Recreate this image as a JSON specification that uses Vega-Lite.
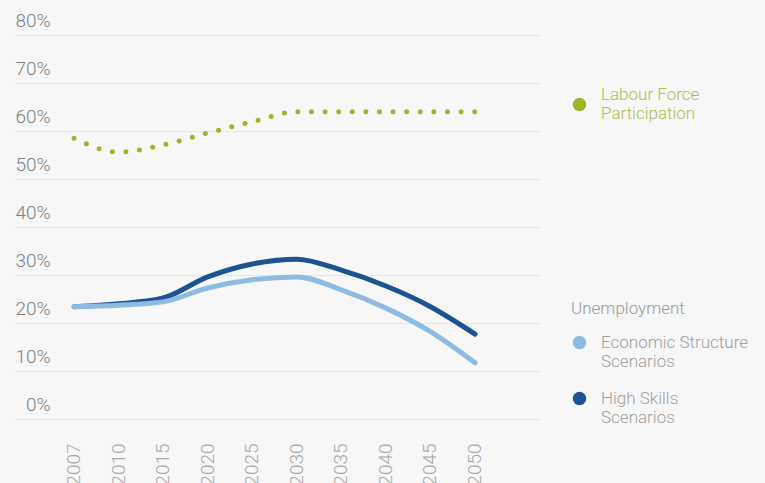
{
  "$schema": "https://vega.github.io/schema/vega-lite/v6.json",
  "width": 525,
  "height": 384,
  "autosize": {"type": "none"},
  "padding": {"left": 15, "top": 35, "right": 225, "bottom": 64},
  "background": "#f7f7f7",
  "config": {
    "view": {"stroke": null},
    "font": "Roboto, sans-serif",
    "legend": {"padding": 0}
  },
  "datasets": {
    "lfp": [
      {"year": "2007", "series": "Labour Force Participation", "rate": 58.5},
      {"year": "2010", "series": "Labour Force Participation", "rate": 55.6},
      {"year": "2015", "series": "Labour Force Participation", "rate": 57.1},
      {"year": "2020", "series": "Labour Force Participation", "rate": 59.6},
      {"year": "2025", "series": "Labour Force Participation", "rate": 61.9},
      {"year": "2030", "series": "Labour Force Participation", "rate": 64.0},
      {"year": "2035", "series": "Labour Force Participation", "rate": 64.0},
      {"year": "2040", "series": "Labour Force Participation", "rate": 64.0},
      {"year": "2045", "series": "Labour Force Participation", "rate": 64.0},
      {"year": "2050", "series": "Labour Force Participation", "rate": 64.0}
    ],
    "unemp": [
      {"year": "2007", "scenario": "High Skills Scenarios", "rate": 23.4},
      {"year": "2010", "scenario": "High Skills Scenarios", "rate": 24.0},
      {"year": "2015", "scenario": "High Skills Scenarios", "rate": 25.2},
      {"year": "2020", "scenario": "High Skills Scenarios", "rate": 29.6},
      {"year": "2025", "scenario": "High Skills Scenarios", "rate": 32.3},
      {"year": "2030", "scenario": "High Skills Scenarios", "rate": 33.3},
      {"year": "2035", "scenario": "High Skills Scenarios", "rate": 31.0},
      {"year": "2040", "scenario": "High Skills Scenarios", "rate": 27.7},
      {"year": "2045", "scenario": "High Skills Scenarios", "rate": 23.4},
      {"year": "2050", "scenario": "High Skills Scenarios", "rate": 17.7},
      {"year": "2007", "scenario": "Economic Structure Scenarios", "rate": 23.4},
      {"year": "2010", "scenario": "Economic Structure Scenarios", "rate": 23.7},
      {"year": "2015", "scenario": "Economic Structure Scenarios", "rate": 24.4},
      {"year": "2020", "scenario": "Economic Structure Scenarios", "rate": 27.3},
      {"year": "2025", "scenario": "Economic Structure Scenarios", "rate": 29.0},
      {"year": "2030", "scenario": "Economic Structure Scenarios", "rate": 29.6},
      {"year": "2035", "scenario": "Economic Structure Scenarios", "rate": 26.9},
      {"year": "2040", "scenario": "Economic Structure Scenarios", "rate": 23.1},
      {"year": "2045", "scenario": "Economic Structure Scenarios", "rate": 18.2},
      {"year": "2050", "scenario": "Economic Structure Scenarios", "rate": 11.7}
    ]
  },
  "encoding": {
    "x": {
      "field": "year", "type": "ordinal", "bandPosition": 0.5,
      "scale": {"type": "band", "paddingInner": 0, "paddingOuter": 0.891, "align": 0.4625},
      "axis": {"title": null, "labelAngle": 270, "labelPadding": 24, "ticks": false, "domain": false, "grid": false, "labelFontSize": 19, "labelFontWeight": 300, "labelColor": "#a8a8a8"}
    },
    "y": {
      "field": "rate", "type": "quantitative",
      "scale": {"domain": [0, 80]},
      "axis": {"title": null, "values": [0, 10, 20, 30, 40, 50, 60, 70, 80], "labelExpr": "datum.value + '%'", "labelAlign": "right", "labelPadding": -35, "labelBaseline": "alphabetic", "labelOffset": -9, "ticks": false, "domain": false, "gridColor": "#e6e6e6", "labelFontSize": 19, "labelFontWeight": 300, "labelColor": "#808080"}
    }
  },
  "layer": [
    {
      "data": {"name": "lfp"},
      "mark": {"type": "line", "strokeDash": [0, 13.6], "strokeCap": "round", "strokeWidth": 5, "interpolate": "monotone"},
      "encoding": {
        "color": {
          "field": "series", "type": "nominal",
          "scale": {"domain": ["Labour Force Participation"], "range": ["#9cb52b"]},
          "legend": {"orient": "none", "legendX": 556, "legendY": 61, "title": null, "symbolType": "circle", "symbolSize": 180, "symbolStrokeWidth": 0, "symbolFillColor": "#9cb52b", "labelOffset": 13, "labelFontSize": 17, "labelFontWeight": 300, "labelColor": "#a9c04f", "labelLimit": 300, "labelLineHeight": 20,
            "labelExpr": "['Labour Force', 'Participation']",
            "encode": {"labels": {"update": {"dy": {"value": -10}}}}}
        }
      }
    },
    {
      "data": {"name": "unemp"},
      "mark": {"type": "line", "strokeWidth": 5, "strokeCap": "round", "interpolate": "monotone"},
      "encoding": {
        "color": {
          "field": "scenario", "type": "nominal",
          "scale": {"domain": ["Economic Structure Scenarios", "High Skills Scenarios"], "range": ["#8dbbe2", "#1b5393"]},
          "legend": {"orient": "none", "legendX": 556, "legendY": 266, "title": "Unemployment", "titleFontSize": 17, "titleColor": "#9a9a9a", "titleFontWeight": 300, "titlePadding": 16, "symbolType": "circle", "symbolSize": 180, "symbolStrokeWidth": 0, "labelOffset": 13, "labelFontSize": 17, "labelFontWeight": 300, "labelColor": "#a0a0a0", "labelLimit": 300, "labelLineHeight": 20, "rowPadding": 19,
            "labelExpr": "datum.label == 'High Skills Scenarios' ? ['High Skills', 'Scenarios'] : ['Economic Structure', 'Scenarios']",
            "encode": {"symbols": {"update": {"fill": {"signal": "datum.value == 'High Skills Scenarios' ? '#1b5393' : '#8dbbe2'"}, "fillOpacity": {"value": 1}}}}}
        }
      }
    }
  ],
  "resolve": {"scale": {"color": "independent"}}
}
